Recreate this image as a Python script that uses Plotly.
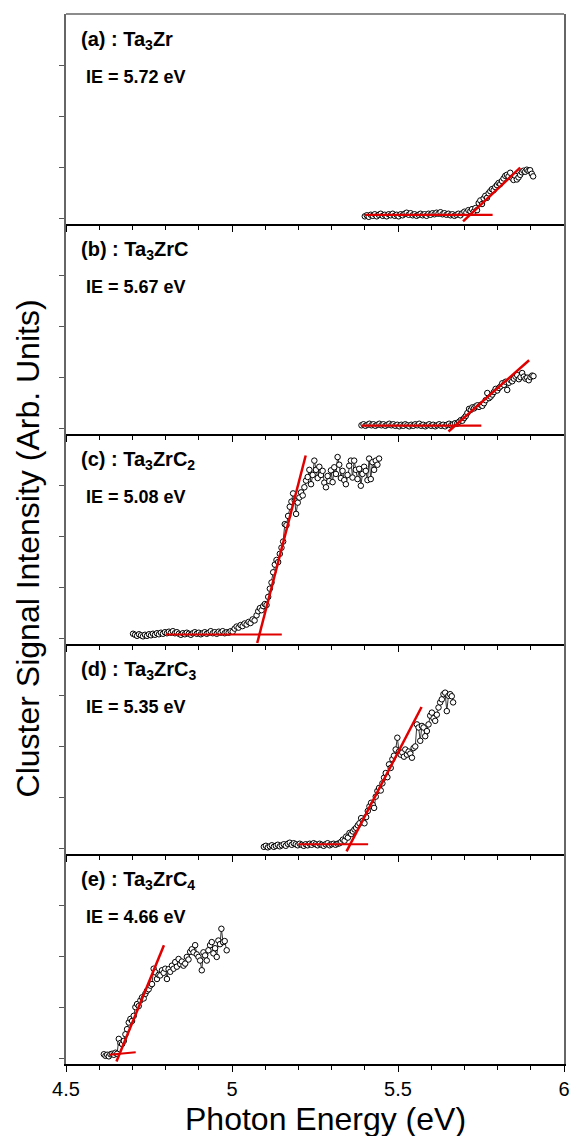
import plotly.graph_objects as go
from plotly.subplots import make_subplots

# ---------------- data ----------------
labels = ["(a) : Ta<sub>3</sub>Zr", "(b) : Ta<sub>3</sub>ZrC", "(c) : Ta<sub>3</sub>ZrC<sub>2</sub>",
          "(d) : Ta<sub>3</sub>ZrC<sub>3</sub>", "(e) : Ta<sub>3</sub>ZrC<sub>4</sub>"]
ie_texts = ["IE = 5.72 eV", "IE = 5.67 eV", "IE = 5.08 eV", "IE = 5.35 eV", "IE = 4.66 eV"]

xa = [5.400, 5.406, 5.412, 5.418, 5.424, 5.430, 5.436, 5.442, 5.448, 5.454, 5.460, 5.466, 5.472, 5.478,
      5.484, 5.490, 5.496, 5.502, 5.508, 5.514, 5.520, 5.526, 5.532, 5.538, 5.544, 5.550, 5.556, 5.562,
      5.568, 5.574, 5.580, 5.586, 5.592, 5.598, 5.604, 5.610, 5.616, 5.622, 5.628, 5.634, 5.640, 5.646,
      5.652, 5.658, 5.664, 5.670, 5.676, 5.682, 5.688, 5.694, 5.700, 5.706, 5.712, 5.718, 5.723, 5.728,
      5.733, 5.738, 5.743, 5.748, 5.753, 5.758, 5.763, 5.768, 5.773, 5.778, 5.783, 5.788, 5.793, 5.798,
      5.803, 5.808, 5.813, 5.818, 5.823, 5.828, 5.833, 5.838, 5.843, 5.848, 5.853, 5.858, 5.863, 5.868,
      5.873, 5.878, 5.883, 5.888, 5.893, 5.898, 5.903, 5.907]
ya = [0.05, 0.07, 0.04, 0.08, 0.06, 0.09, 0.05, 0.08, 0.10, 0.06, 0.08, 0.05, 0.09, 0.07,
      0.10, 0.06, 0.08, 0.05, 0.09, 0.07, 0.10, 0.12, 0.08, 0.11, 0.07, 0.09, 0.06, 0.08,
      0.10, 0.07, 0.09, 0.06, 0.10, 0.08, 0.11, 0.09, 0.12, 0.10, 0.13, 0.09, 0.11, 0.08,
      0.10, 0.07, 0.09, 0.06, 0.08, 0.10, 0.07, 0.11, 0.14, 0.12, 0.17, 0.15, 0.19, 0.14,
      0.21, 0.17, 0.31, 0.36, 0.29, 0.40, 0.45, 0.41, 0.50, 0.54, 0.58, 0.56, 0.62, 0.66,
      0.70, 0.68, 0.74, 0.79, 0.84, 0.86, 0.83, 0.90, 0.80, 0.76, 0.84, 0.77, 0.81, 0.86,
      0.91, 0.94, 0.92, 0.96, 0.94, 0.95, 0.88, 0.83]

xb = [5.390, 5.396, 5.402, 5.408, 5.414, 5.420, 5.426, 5.432, 5.438, 5.444, 5.450, 5.456, 5.462, 5.468,
      5.474, 5.480, 5.486, 5.492, 5.498, 5.504, 5.510, 5.516, 5.522, 5.528, 5.534, 5.540, 5.546, 5.552,
      5.558, 5.564, 5.570, 5.576, 5.582, 5.588, 5.594, 5.600, 5.606, 5.612, 5.618, 5.624, 5.630, 5.636,
      5.642, 5.648, 5.654, 5.660, 5.666, 5.672, 5.678, 5.684, 5.689, 5.694, 5.699, 5.704, 5.709, 5.714,
      5.719, 5.724, 5.729, 5.734, 5.739, 5.744, 5.749, 5.754, 5.759, 5.764, 5.769, 5.774, 5.779, 5.784,
      5.789, 5.794, 5.799, 5.804, 5.809, 5.814, 5.819, 5.824, 5.829, 5.834, 5.839, 5.844, 5.849, 5.854,
      5.859, 5.864, 5.869, 5.874, 5.879, 5.884, 5.889, 5.894, 5.899, 5.904, 5.908]
yb = [0.07, 0.09, 0.06, 0.08, 0.10, 0.07, 0.09, 0.06, 0.08, 0.10, 0.07, 0.09, 0.06, 0.08,
      0.10, 0.07, 0.09, 0.06, 0.08, 0.05, 0.08, 0.06, 0.09, 0.07, 0.05, 0.08, 0.06, 0.09,
      0.07, 0.10, 0.06, 0.08, 0.05, 0.07, 0.09, 0.06, 0.08, 0.05, 0.07, 0.09, 0.06, 0.08,
      0.05, 0.08, 0.10, 0.07, 0.09, 0.11, 0.10, 0.14, 0.17, 0.16, 0.21, 0.25, 0.31, 0.39,
      0.37, 0.42, 0.40, 0.44, 0.46, 0.43, 0.47, 0.45, 0.50, 0.56, 0.70, 0.60, 0.63, 0.67,
      0.72, 0.78, 0.75, 0.80, 0.83, 0.89, 0.86, 0.92, 0.76, 0.90, 0.95, 0.93, 0.98, 1.02,
      1.05, 0.97, 1.01, 1.09, 1.02, 0.98, 1.00, 0.95, 1.01, 1.04, 1.03]

xc = [4.702, 4.708, 4.714, 4.720, 4.726, 4.732, 4.738, 4.744, 4.750, 4.756, 4.762, 4.768, 4.774, 4.780,
      4.786, 4.792, 4.798, 4.804, 4.810, 4.816, 4.822, 4.828, 4.834, 4.840, 4.846, 4.852, 4.858, 4.864,
      4.870, 4.876, 4.882, 4.888, 4.894, 4.900, 4.906, 4.912, 4.918, 4.924, 4.930, 4.936, 4.942, 4.948,
      4.954, 4.960, 4.966, 4.972, 4.978, 4.984, 4.990, 4.996, 5.002, 5.008, 5.014, 5.020, 5.026, 5.032,
      5.038, 5.044, 5.050, 5.056, 5.062, 5.068, 5.074, 5.079, 5.084, 5.089, 5.094, 5.099, 5.104, 5.109,
      5.114, 5.119, 5.124, 5.129, 5.134, 5.139, 5.144, 5.149, 5.154, 5.159, 5.164, 5.169, 5.174, 5.179,
      5.184, 5.189, 5.193, 5.198, 5.203, 5.208, 5.213, 5.218, 5.223, 5.228, 5.233, 5.238, 5.243, 5.248,
      5.253, 5.258, 5.263, 5.268, 5.273, 5.278, 5.283, 5.288, 5.293, 5.298, 5.303, 5.308, 5.313, 5.318,
      5.323, 5.328, 5.333, 5.338, 5.343, 5.348, 5.353, 5.358, 5.363, 5.368, 5.373, 5.378, 5.383, 5.388,
      5.393, 5.398, 5.403, 5.408, 5.413, 5.418, 5.423, 5.428, 5.433, 5.438, 5.443]
yc = [0.10, 0.08, 0.06, 0.09, 0.07, 0.05, 0.08, 0.06, 0.09, 0.07, 0.10, 0.08, 0.11, 0.09,
      0.12, 0.10, 0.13, 0.11, 0.14, 0.12, 0.15, 0.11, 0.13, 0.10, 0.08, 0.11, 0.09, 0.12,
      0.10, 0.08, 0.11, 0.13, 0.10, 0.12, 0.09, 0.11, 0.13, 0.10, 0.12, 0.15, 0.11, 0.13,
      0.10, 0.14, 0.12, 0.15, 0.11, 0.13, 0.12, 0.15, 0.14, 0.20, 0.24, 0.22, 0.27, 0.25,
      0.30, 0.28, 0.33, 0.31, 0.38, 0.36, 0.46, 0.54, 0.60, 0.56, 0.64, 0.68, 0.66, 0.82,
      0.98, 1.10, 1.30, 1.45, 1.54, 1.50, 1.66, 1.78, 1.90, 2.24, 2.22, 2.40, 2.58, 2.68,
      2.84, 2.70, 2.44, 2.66, 2.76, 2.86, 2.80, 2.96, 3.09, 3.16, 3.30, 3.02, 3.20, 3.48,
      3.30, 3.14, 3.36, 3.20, 3.28, 3.05, 2.96, 3.18, 3.08, 3.29, 3.06, 3.35, 3.22, 3.55,
      3.40, 3.14, 3.28, 3.10, 3.02, 3.20, 3.38, 3.48, 3.15, 3.48, 3.30, 3.12, 3.32, 2.99,
      3.22, 3.36, 3.28, 3.10, 3.52, 3.12, 3.45, 3.30, 3.48, 3.40, 3.52]

xd = [5.096, 5.102, 5.108, 5.114, 5.120, 5.126, 5.132, 5.138, 5.144, 5.150, 5.156, 5.162, 5.168, 5.174,
      5.180, 5.186, 5.192, 5.198, 5.204, 5.210, 5.216, 5.222, 5.228, 5.234, 5.240, 5.246, 5.252, 5.258,
      5.264, 5.270, 5.276, 5.282, 5.288, 5.294, 5.300, 5.306, 5.312, 5.318, 5.324, 5.329, 5.334, 5.339,
      5.344, 5.349, 5.354, 5.359, 5.364, 5.369, 5.374, 5.379, 5.384, 5.389, 5.394, 5.399, 5.404, 5.409,
      5.414, 5.419, 5.424, 5.428, 5.433, 5.438, 5.443, 5.448, 5.453, 5.458, 5.463, 5.468, 5.473, 5.478,
      5.483, 5.488, 5.493, 5.498, 5.503, 5.508, 5.513, 5.518, 5.522, 5.527, 5.532, 5.537, 5.542, 5.547,
      5.552, 5.557, 5.562, 5.567, 5.572, 5.577, 5.582, 5.587, 5.592, 5.597, 5.602, 5.607, 5.612, 5.617,
      5.622, 5.627, 5.632, 5.637, 5.642, 5.647, 5.652, 5.657, 5.662, 5.666]
yd = [0.04, 0.06, 0.03, 0.05, 0.07, 0.04, 0.06, 0.08, 0.05, 0.07, 0.09, 0.06, 0.10, 0.12,
      0.08, 0.11, 0.09, 0.07, 0.10, 0.08, 0.06, 0.09, 0.07, 0.10, 0.08, 0.11, 0.09, 0.07,
      0.10, 0.08, 0.06, 0.09, 0.11, 0.07, 0.09, 0.10, 0.08, 0.10, 0.11, 0.14, 0.18, 0.16,
      0.24, 0.22, 0.31, 0.29, 0.34, 0.38, 0.41, 0.46, 0.50, 0.60, 0.55, 0.50, 0.62, 0.74,
      0.83, 0.90, 0.86, 0.80, 1.02, 1.13, 1.19, 1.14, 1.28, 1.39, 1.48, 1.40, 1.65, 1.58,
      1.75, 1.82, 1.94, 2.17, 1.90, 1.84, 1.88, 1.80, 1.94, 1.84, 1.90, 1.86, 1.78, 1.97,
      2.00, 2.43, 2.37, 2.11, 2.40, 2.37, 2.20, 2.30, 2.43, 2.60, 2.66, 2.55, 2.50, 2.62,
      2.76, 2.86, 2.92, 3.02, 3.05, 2.69, 2.99, 3.02, 2.98, 2.86]

xe = [4.614, 4.619, 4.624, 4.629, 4.634, 4.639, 4.644, 4.649, 4.654, 4.659, 4.664, 4.669, 4.674, 4.679,
      4.684, 4.689, 4.694, 4.699, 4.704, 4.709, 4.714, 4.719, 4.724, 4.729, 4.734, 4.739, 4.744, 4.749,
      4.754, 4.759, 4.764, 4.769, 4.774, 4.779, 4.784, 4.789, 4.794, 4.799, 4.804, 4.809, 4.814, 4.819,
      4.824, 4.829, 4.834, 4.839, 4.844, 4.849, 4.854, 4.859, 4.864, 4.869, 4.874, 4.879, 4.884, 4.889,
      4.894, 4.899, 4.904, 4.909, 4.914, 4.919, 4.924, 4.929, 4.934, 4.939, 4.944, 4.949, 4.954, 4.959,
      4.964, 4.968, 4.973, 4.978, 4.984]
ye = [0.09, 0.06, 0.08, 0.05, 0.09, 0.10, 0.08, 0.12, 0.10, 0.39, 0.31, 0.29, 0.35, 0.48,
      0.58, 0.71, 0.78, 0.74, 0.84, 1.01, 1.07, 1.03, 1.14, 1.20, 1.18, 1.27, 1.33, 1.36,
      1.43, 1.46, 1.76, 1.69, 1.56, 1.64, 1.63, 1.73, 1.68, 1.76, 1.56, 1.75, 1.70, 1.82,
      1.76, 1.89, 1.80, 1.95, 1.85, 1.90, 1.82, 1.86, 1.99, 1.94, 2.09, 2.14, 2.08, 2.22,
      2.04, 1.99, 1.92, 1.73, 2.08, 2.02, 1.92, 2.12, 2.22, 2.28, 2.06, 2.16, 1.99, 2.31,
      2.24, 2.54, 2.28, 2.30, 2.12]

# linear-fit segments (onset line and baseline)
fit_x = [[5.696, 5.868], [5.652, 5.895], [5.076, 5.222], [5.345, 5.571], [4.652, 4.795]]
fit_y = [[-0.05, 1.00], [-0.05, 1.34], [-0.08, 3.58], [-0.05, 2.77], [-0.05, 2.22]]
base_x = [[5.400, 5.785], [5.390, 5.751], [4.800, 5.150], [5.200, 5.410], [4.630, 4.710]]
base_y = [[0.08, 0.08], [0.065, 0.065], [0.085, 0.085], [0.09, 0.09], [0.08, 0.13]]

data_x = [xa, xb, xc, xd, xe]
data_y = [ya, yb, yc, yd, ye]

# ---------------- figure ----------------
FONT = "Liberation Sans, Arial, sans-serif"
fig = make_subplots(rows=5, cols=1, shared_xaxes=True, vertical_spacing=0)

for i in range(5):
    r = i + 1
    fig.add_trace(go.Scatter(x=data_x[i], y=data_y[i], mode="lines+markers",
                             line=dict(color="#333333", width=1),
                             marker=dict(symbol="circle", size=5.5, color="white",
                                         line=dict(color="black", width=1)),
                             showlegend=False), row=r, col=1)
    fig.add_trace(go.Scatter(x=base_x[i], y=base_y[i], mode="lines",
                             line=dict(color="#e00000", width=2.2), showlegend=False), row=r, col=1)
    fig.add_trace(go.Scatter(x=fit_x[i], y=fit_y[i], mode="lines",
                             line=dict(color="#e00000", width=2.5), showlegend=False), row=r, col=1)

    fig.update_yaxes(range=[-0.1, 4.0], tickvals=[0, 1, 2, 3], showticklabels=False,
                     ticks="outside", ticklen=5, tickwidth=1, tickcolor="#555555",
                     showline=True, linecolor="#666666", linewidth=1.5, mirror=True,
                     showgrid=False, zeroline=False, row=r, col=1)
    fig.update_xaxes(range=[4.5, 6.0], tick0=4.5, dtick=0.5, ticks="outside", ticklen=6,
                     tickwidth=1.2, tickcolor="black",
                     minor=dict(dtick=0.1, ticks="outside", ticklen=4, tickcolor="black", tickwidth=1),
                     showline=True, linecolor="black", linewidth=2,
                     showgrid=False, zeroline=False,
                     tickfont=dict(family=FONT, size=20, color="black"), row=r, col=1)

    xd_ref = "x domain" if r == 1 else f"x{r} domain"
    yd_ref = "y domain" if r == 1 else f"y{r} domain"
    fig.add_annotation(x=0.026, y=0.876, xref=xd_ref, yref=yd_ref, text=labels[i],
                       showarrow=False, xanchor="left", yanchor="middle",
                       font=dict(family=FONT, size=20, color="black", weight="bold"))
    fig.add_annotation(x=0.036, y=0.700, xref=xd_ref, yref=yd_ref, text=ie_texts[i],
                       showarrow=False, xanchor="left", yanchor="middle",
                       font=dict(family=FONT, size=18, color="black", weight="bold"))

# top border of the first panel
fig.add_shape(type="line", xref="paper", yref="paper", x0=0, x1=1, y0=1, y1=1,
              line=dict(color="#666666", width=1.5))

# axis titles
fig.add_annotation(x=-0.0744, y=0.491, xref="paper", yref="paper", textangle=-90,
                   text="Cluster Signal Intensity (Arb. Units)", showarrow=False,
                   xanchor="center", yanchor="middle", font=dict(family=FONT, size=32, color="black"))
fig.add_annotation(x=0.522, y=-0.052, xref="paper", yref="paper",
                   text="Photon Energy (eV)", showarrow=False,
                   xanchor="center", yanchor="middle", font=dict(family=FONT, size=32, color="black"))

fig.update_layout(width=576, height=1136, margin=dict(l=66, r=6, t=14, b=72),
                  paper_bgcolor="white", plot_bgcolor="white",
                  font=dict(family=FONT, color="black"))

fig.write_html("out.html")
